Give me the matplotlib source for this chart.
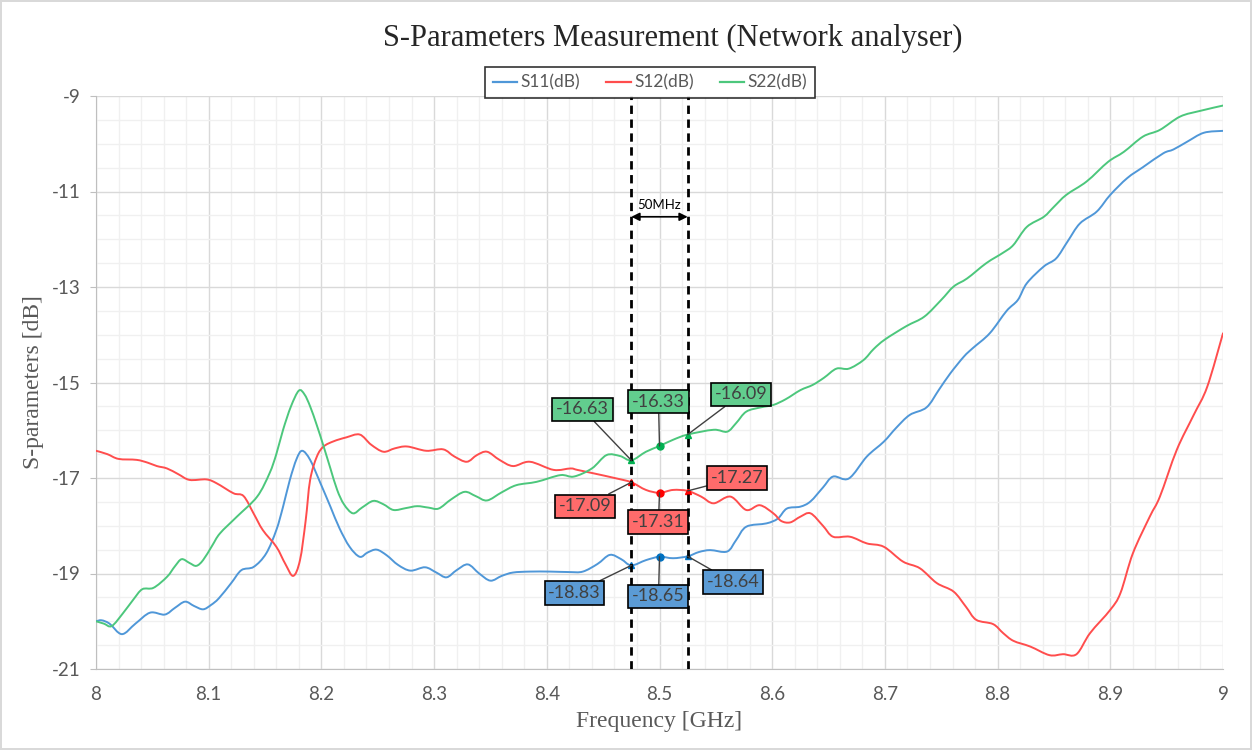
import matplotlib.pyplot as plt
from matplotlib.ticker import MultipleLocator
from matplotlib.path import Path
from matplotlib.patches import PathPatch
from matplotlib.lines import Line2D

plt.rcParams["axes.unicode_minus"] = False

# S11 (dB) vs frequency (GHz)
s11_freq = [8.000, 8.005, 8.012, 8.023, 8.035, 8.048, 8.061, 8.070, 8.079, 8.087,
            8.095, 8.102, 8.109, 8.120, 8.129, 8.140, 8.151, 8.160, 8.166, 8.172,
            8.178, 8.183, 8.190, 8.199, 8.208, 8.216, 8.225, 8.234, 8.241, 8.249,
            8.258, 8.268, 8.279, 8.292, 8.302, 8.311, 8.320, 8.330, 8.340, 8.350,
            8.360, 8.370, 8.385, 8.403, 8.420, 8.432, 8.445, 8.456, 8.466, 8.475,
            8.488, 8.500, 8.512, 8.525, 8.535, 8.545, 8.560, 8.568, 8.577, 8.595,
            8.605, 8.613, 8.625, 8.634, 8.645, 8.654, 8.668, 8.684, 8.699, 8.710,
            8.722, 8.737, 8.748, 8.758, 8.770, 8.778, 8.793, 8.808, 8.818, 8.826,
            8.841, 8.852, 8.862, 8.873, 8.888, 8.900, 8.915, 8.929, 8.947, 8.956,
            8.968, 8.983, 9.000]
s11_db = [-20.00, -19.98, -20.05, -20.27, -20.05, -19.82, -19.86, -19.72, -19.59, -19.68,
          -19.75, -19.66, -19.52, -19.20, -18.93, -18.86, -18.58, -18.09, -17.60, -17.04,
          -16.60, -16.43, -16.62, -17.10, -17.60, -18.05, -18.44, -18.65, -18.56, -18.50,
          -18.62, -18.82, -18.94, -18.87, -18.98, -19.08, -18.93, -18.81, -19.00, -19.15,
          -19.05, -18.98, -18.96, -18.96, -18.97, -18.96, -18.80, -18.61, -18.70, -18.83,
          -18.72, -18.65, -18.68, -18.64, -18.55, -18.51, -18.54, -18.30, -18.02, -17.95,
          -17.85, -17.64, -17.60, -17.49, -17.20, -16.97, -17.01, -16.55, -16.24, -15.95,
          -15.68, -15.52, -15.15, -14.81, -14.46, -14.28, -13.97, -13.50, -13.27, -12.92,
          -12.57, -12.40, -12.05, -11.67, -11.42, -11.07, -10.72, -10.49, -10.20, -10.12,
          -9.96, -9.77, -9.73]

# S12 (dB)
s12_freq = [8.000, 8.010, 8.020, 8.036, 8.046, 8.054, 8.063, 8.073, 8.083, 8.098,
            8.107, 8.122, 8.131, 8.140, 8.148, 8.160, 8.168, 8.175, 8.181, 8.186,
            8.190, 8.196, 8.202, 8.211, 8.222, 8.234, 8.244, 8.255, 8.265, 8.276,
            8.293, 8.308, 8.318, 8.329, 8.338, 8.347, 8.358, 8.370, 8.385, 8.406,
            8.421, 8.427, 8.441, 8.462, 8.475, 8.488, 8.500, 8.512, 8.525, 8.537,
            8.548, 8.563, 8.577, 8.589, 8.601, 8.608, 8.616, 8.625, 8.634, 8.645,
            8.654, 8.669, 8.684, 8.699, 8.716, 8.731, 8.746, 8.761, 8.772, 8.781,
            8.796, 8.805, 8.814, 8.829, 8.846, 8.858, 8.870, 8.882, 8.900, 8.909,
            8.920, 8.935, 8.944, 8.959, 8.974, 8.986, 9.000]
s12_db = [-16.43, -16.50, -16.60, -16.62, -16.68, -16.75, -16.80, -16.92, -17.04, -17.03,
          -17.11, -17.32, -17.38, -17.75, -18.09, -18.44, -18.80, -19.05, -18.72, -17.90,
          -17.04, -16.55, -16.34, -16.23, -16.15, -16.09, -16.30, -16.45, -16.38, -16.34,
          -16.43, -16.40, -16.55, -16.66, -16.52, -16.45, -16.62, -16.75, -16.66, -16.83,
          -16.80, -16.83, -16.90, -17.01, -17.09, -17.25, -17.31, -17.25, -17.27, -17.39,
          -17.53, -17.39, -17.67, -17.57, -17.74, -17.90, -17.93, -17.81, -17.74, -18.00,
          -18.23, -18.23, -18.37, -18.44, -18.75, -18.89, -19.20, -19.38, -19.70, -19.97,
          -20.06, -20.25, -20.41, -20.53, -20.71, -20.69, -20.69, -20.25, -19.76, -19.41,
          -18.58, -17.81, -17.39, -16.41, -15.68, -15.09, -13.97]

# S22 (dB)
s22_freq = [8.000, 8.007, 8.014, 8.024, 8.033, 8.041, 8.051, 8.063, 8.070, 8.076,
            8.083, 8.089, 8.095, 8.103, 8.110, 8.125, 8.143, 8.154, 8.160, 8.166,
            8.173, 8.180, 8.185, 8.190, 8.196, 8.202, 8.208, 8.214, 8.220, 8.228,
            8.236, 8.246, 8.255, 8.264, 8.275, 8.285, 8.295, 8.304, 8.315, 8.327,
            8.337, 8.347, 8.360, 8.373, 8.391, 8.412, 8.424, 8.440, 8.453, 8.465,
            8.475, 8.488, 8.500, 8.512, 8.525, 8.548, 8.560, 8.568, 8.577, 8.590,
            8.601, 8.612, 8.625, 8.636, 8.646, 8.657, 8.668, 8.681, 8.690, 8.700,
            8.719, 8.735, 8.750, 8.761, 8.773, 8.790, 8.805, 8.814, 8.826, 8.841,
            8.850, 8.861, 8.879, 8.898, 8.912, 8.929, 8.944, 8.962, 8.980, 9.000]
s22_db = [-20.00, -20.05, -20.10, -19.83, -19.55, -19.33, -19.30, -19.07, -18.85, -18.70,
          -18.78, -18.84, -18.72, -18.42, -18.16, -17.81, -17.39, -16.90, -16.50, -15.99,
          -15.50, -15.17, -15.25, -15.50, -15.90, -16.34, -16.80, -17.25, -17.55, -17.74,
          -17.62, -17.48, -17.55, -17.67, -17.63, -17.59, -17.62, -17.64, -17.45, -17.29,
          -17.38, -17.47, -17.30, -17.15, -17.08, -16.94, -16.97, -16.80, -16.52, -16.54,
          -16.63, -16.45, -16.33, -16.20, -16.09, -15.99, -16.03, -15.85, -15.61, -15.52,
          -15.47, -15.35, -15.16, -15.05, -14.90, -14.71, -14.71, -14.53, -14.30, -14.10,
          -13.82, -13.62, -13.27, -12.99, -12.82, -12.50, -12.28, -12.12, -11.74, -11.53,
          -11.32, -11.07, -10.79, -10.38, -10.17, -9.85, -9.71, -9.43, -9.31, -9.20]

# marker frequencies and readings around the 8.5 GHz centre
mark_freq = [8.475, 8.500, 8.525]
s11_marks = [-18.83, -18.65, -18.64]
s12_marks = [-17.09, -17.31, -17.27]
s22_marks = [-16.63, -16.33, -16.09]

# label box centres (freq, dB)
s11_label_pos = [(8.4246, -19.41), (8.4991, -19.48), (8.5652, -19.18)]
s12_label_pos = [(8.4339, -17.59), (8.4991, -17.92), (8.5688, -17.00)]
s22_label_pos = [(8.4317, -15.56), (8.4991, -15.40), (8.5723, -15.25)]

series = [
    ("S11(dB)", s11_freq, s11_db, "#4f97d8", "#5b9bd5", "#0070c0", s11_marks, s11_label_pos),
    ("S12(dB)", s12_freq, s12_db, "#ff4d4d", "#ff6b6b", "#ff0000", s12_marks, s12_label_pos),
    ("S22(dB)", s22_freq, s22_db, "#4cc77c", "#62cd8e", "#00b050", s22_marks, s22_label_pos),
]


def smooth_path(xs, ys):
    # smoothed line through the points (cubic Bezier segments, like a spreadsheet "smooth line")
    n = len(xs)
    verts = [(xs[0], ys[0])]
    codes = [Path.MOVETO]
    for i in range(n - 1):
        i0, i2, i3 = max(i - 1, 0), i + 1, min(i + 2, n - 1)
        c1 = (xs[i] + (xs[i2] - xs[i0]) / 6, ys[i] + (ys[i2] - ys[i0]) / 6)
        c2 = (xs[i2] - (xs[i3] - xs[i]) / 6, ys[i2] - (ys[i3] - ys[i]) / 6)
        verts += [c1, c2, (xs[i2], ys[i2])]
        codes += [Path.CURVE4] * 3
    return Path(verts, codes)


fig = plt.figure(figsize=(12.52, 7.5), dpi=100)
fig.patch.set_edgecolor("#d9d9d9")
fig.patch.set_linewidth(1.5)
ax = fig.add_axes([96 / 1252, 81 / 750, 1127 / 1252, 573 / 750])

tick_grey = "#595959"
serif = "Liberation Serif"
handles = []
for name, fx, fy, lc, boxc, mc, marks, lpos in series:
    ax.add_patch(PathPatch(smooth_path(fx, fy), fill=False, ec=lc, lw=1.4, zorder=3,
                           capstyle="round", joinstyle="round"))
    handles.append(Line2D([], [], color=lc, lw=1.6, label=name))
    for f, v, m, (tx, ty) in zip(mark_freq, marks, ["^", "o", "^"], lpos):
        ax.plot(f, v, marker=m, color=mc, ms=5 if m == "o" else 4.5, zorder=4)
        ax.annotate(f"{v:.2f}", xy=(f, v), xytext=(tx, ty), ha="center", va="center",
                    fontsize=13, color="#404040", family="Lato", zorder=6,
                    bbox=dict(boxstyle="square,pad=0.2", fc=boxc, ec="black", lw=1.2),
                    arrowprops=dict(arrowstyle="-", color="#404040", lw=1, shrinkA=0, shrinkB=0))

# 50 MHz window
for f in (8.475, 8.525):
    ax.axvline(f, color="black", ls=(0, (3, 2)), lw=2, zorder=5)
ax.annotate("", xy=(8.475, -11.53), xytext=(8.525, -11.53),
            arrowprops=dict(arrowstyle="<|-|>", color="black", lw=1.2,
                            mutation_scale=12, shrinkA=0, shrinkB=0), zorder=5)
ax.text(8.5, -11.28, "50MHz", ha="center", va="center", fontsize=9.5,
        family="Lato", color="black", zorder=5)

ax.set_xlim(8, 9)
ax.set_ylim(-21, -9)
ax.set_xticks([8 + i / 10 for i in range(11)])
ax.set_xticklabels(["8", "8.1", "8.2", "8.3", "8.4", "8.5", "8.6", "8.7", "8.8", "8.9", "9"])
ax.set_yticks(list(range(-21, -8, 2)))
ax.xaxis.set_minor_locator(MultipleLocator(0.02))
ax.yaxis.set_minor_locator(MultipleLocator(0.5))
ax.grid(which="major", color="#d9d9d9", lw=1)
ax.grid(which="minor", color="#f0f0f0", lw=1)
ax.set_axisbelow(True)
for side in ("top", "right"):
    ax.spines[side].set_visible(False)
for side in ("left", "bottom"):
    ax.spines[side].set_color("#bfbfbf")
ax.tick_params(axis="y", which="major", labelsize=13.5, labelcolor=tick_grey,
               color="#bfbfbf", length=4.3, pad=7)
ax.tick_params(axis="x", which="major", labelsize=13.5, labelcolor=tick_grey,
               length=0, pad=12)
ax.tick_params(which="minor", length=0)
for lab in ax.get_xticklabels() + ax.get_yticklabels():
    lab.set_family("Lato")

ax.set_xlabel("Frequency [GHz]", family=serif, fontsize=17, color=tick_grey)
ax.set_ylabel("S-parameters [dB]", family=serif, fontsize=17, color=tick_grey)
ax.xaxis.set_label_coords(0.5, -0.073)
ax.yaxis.set_label_coords(-0.046, 0.5)
fig.text(673 / 1252, 1 - 38 / 750, "S-Parameters Measurement (Network analyser)",
         family=serif, fontsize=22, color="#262626", ha="center", va="center")

leg = ax.legend(handles=handles, loc="upper center", bbox_to_anchor=(650 / 1252, 1 - 58 / 750),
                bbox_transform=fig.transFigure, ncol=3, frameon=True, fancybox=False,
                prop={"family": "Lato", "size": 12.5}, handlelength=1.4, handletextpad=0.2,
                columnspacing=1.5, borderpad=0.45)
leg.get_frame().set_edgecolor("black")
leg.get_frame().set_linewidth(1.2)
for t in leg.get_texts():
    t.set_color(tick_grey)

fig.savefig("out.png", dpi=100)
